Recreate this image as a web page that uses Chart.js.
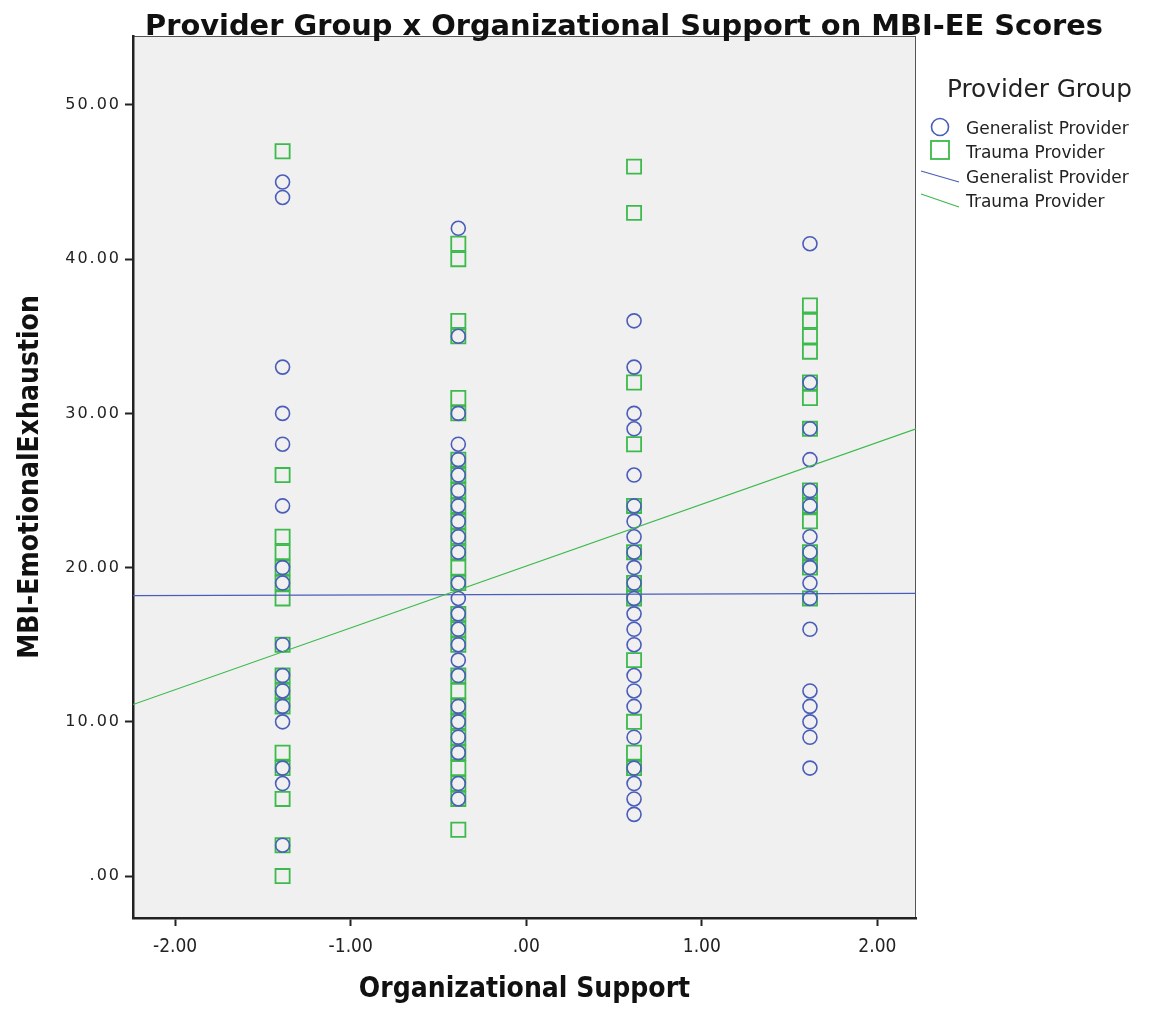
<!DOCTYPE html>
<html>
<head>
<meta charset="utf-8">
<script src="https://cdn.jsdelivr.net/npm/chart.js@4.4.1/dist/chart.umd.min.js"></script>
<style>
  html, body { margin: 0; padding: 0; background: #ffffff; }
  #wrap { width: 1169px; height: 1011px; }
</style>
</head>
<body>
<div id="wrap"><canvas id="chart" width="1169" height="1011"></canvas></div>
<script>
// Organizational Support levels (standardized) at which scores were observed
const supportLevels = [-1.388, -0.387, 0.614, 1.616];

// MBI-EE scores, Generalist Providers, one list per support level
const generalistScores = [
  [45, 44, 33, 30, 28, 24, 20, 19, 15, 13, 12, 11, 10, 7, 6, 2],
  [42, 35, 30, 28, 27, 26, 25, 24, 23, 22, 21, 19, 18, 17, 16, 15, 14, 13, 11, 10, 9, 8, 6, 5],
  [36, 33, 30, 29, 26, 24, 23, 22, 21, 20, 19, 18, 17, 16, 15, 13, 12, 11, 9, 7, 6, 5, 4],
  [41, 32, 29, 27, 25, 24, 22, 21, 20, 19, 18, 16, 12, 11, 10, 9, 7]
];

// MBI-EE scores, Trauma Providers, one list per support level
const traumaScores = [
  [47, 26, 22, 21, 20, 19, 18, 15, 13, 12, 11, 8, 7, 5, 2, 0],
  [41, 40, 36, 35, 31, 30, 27, 26, 25, 24, 23, 22, 21, 20, 19, 17, 16, 15, 13, 12, 11, 10, 9, 8, 7, 6, 5, 3],
  [46, 43, 32, 28, 24, 21, 19, 18, 14, 10, 8, 7],
  [37, 36, 35, 34, 32, 31, 29, 25, 24, 23, 21, 20, 18]
];

// Fit lines: end points across the x range
const fitX = [-2.24, 2.22];
const fitGeneralist = [18.18, 18.33];
const fitTrauma = [11.12, 29.0];

// Axis ranges and tick values
const xRange = [-2.24, 2.22];
const yRange = [-2.72, 54.47];
const xTicks = [-2, -1, 0, 1, 2];
const yTicks = [0, 10, 20, 30, 40, 50];

const groupNames = ['Generalist Provider', 'Trauma Provider'];
const legendTitle = 'Provider Group';
const chartTitle = 'Provider Group x Organizational Support on MBI-EE Scores';
const xTitle = 'Organizational Support';
const yTitle = 'MBI-EmotionalExhaustion';

const BLUE = '#4a5db8';
const GREEN = '#3cba4b';
const NARROW = '"Liberation Sans Narrow", "DejaVu Sans Condensed", "Roboto Condensed", "Liberation Sans", sans-serif';

function toPoints(levels, groups) {
  const pts = [];
  groups.forEach((list, i) => list.forEach(v => pts.push({ x: levels[i], y: v })));
  return pts;
}
function fmt(v) {
  if (v === 0) return '.00';
  const s = Math.abs(v).toFixed(2);
  return (v < 0 ? '-' : '') + (Math.abs(v) < 1 ? s.slice(1) : s);
}

// Plot-area fill and frame
const frame = {
  id: 'frame',
  beforeDraw(chart) {
    const { ctx, chartArea: a } = chart;
    ctx.save();
    ctx.fillStyle = '#f0f0f0';
    ctx.fillRect(a.left, a.top, a.right - a.left, a.bottom - a.top);
    ctx.strokeStyle = '#555555';
    ctx.lineWidth = 1;
    ctx.strokeRect(a.left + 0.5, a.top + 0.5, a.right - a.left - 1, a.bottom - a.top - 1);
    ctx.restore();
    // spaced lettering for the vertical axis labels
    const sc = chart.scales.y;
    if (sc && !sc._spaced) {
      const orig = sc.drawLabels;
      sc.drawLabels = function (area) {
        const c = this.ctx;
        c.save();
        c.letterSpacing = '2px';
        orig.call(this, area);
        c.restore();
      };
      sc._spaced = true;
    }
  }
};

// Chart heading and group key
const heading = {
  id: 'heading',
  afterDraw(chart) {
    const { ctx } = chart;
    ctx.save();
    ctx.fillStyle = '#111111';
    ctx.textBaseline = 'alphabetic';
    ctx.textAlign = 'center';
    ctx.font = 'bold 29px ' + NARROW;
    // stretch the heading to span 958px centred at x = 624
    const w = ctx.measureText(chartTitle).width;
    ctx.save();
    ctx.translate(624, 35);
    ctx.scale(958 / w, 1);
    ctx.fillText(chartTitle, 0, 0);
    ctx.restore();

    ctx.textAlign = 'left';
    ctx.font = '24px "DejaVu Sans", sans-serif';
    ctx.fillStyle = '#222222';
    ctx.save();
    const lw = ctx.measureText(legendTitle).width;
    ctx.translate(947, 97);
    ctx.scale(185 / lw, 1);
    ctx.fillText(legendTitle, 0, 0);
    ctx.restore();

    ctx.font = '17px "DejaVu Sans", sans-serif';
    // circle marker
    ctx.lineWidth = 1.6;
    ctx.strokeStyle = BLUE;
    ctx.beginPath();
    ctx.arc(940, 127, 8.5, 0, Math.PI * 2);
    ctx.stroke();
    ctx.fillText(groupNames[0], 966, 134);
    // square marker
    ctx.strokeStyle = GREEN;
    ctx.lineWidth = 1.8;
    ctx.strokeRect(931, 141, 18, 18);
    ctx.fillText(groupNames[1], 966, 158);
    // line markers
    ctx.lineWidth = 1.2;
    ctx.strokeStyle = BLUE;
    ctx.beginPath(); ctx.moveTo(921, 171); ctx.lineTo(959, 182); ctx.stroke();
    ctx.fillText(groupNames[0], 966, 183);
    ctx.strokeStyle = GREEN;
    ctx.beginPath(); ctx.moveTo(921, 194); ctx.lineTo(959, 207); ctx.stroke();
    ctx.fillText(groupNames[1], 966, 207);
    ctx.restore();
  }
};

new Chart(document.getElementById('chart'), {
  type: 'scatter',
  data: {
    datasets: [
      {
        label: groupNames[1],
        data: toPoints(supportLevels, traumaScores),
        pointStyle: 'rect',
        pointRadius: 10,
        borderColor: GREEN,
        backgroundColor: 'rgba(0,0,0,0)',
        borderWidth: 1.8,
        order: 3
      },
      {
        label: groupNames[0],
        data: toPoints(supportLevels, generalistScores),
        pointStyle: 'circle',
        pointRadius: 7,
        borderColor: BLUE,
        backgroundColor: 'rgba(0,0,0,0)',
        borderWidth: 1.6,
        order: 2
      },
      {
        type: 'line',
        label: groupNames[0] + ' fit',
        data: fitX.map((x, i) => ({ x, y: fitGeneralist[i] })),
        borderColor: BLUE,
        borderWidth: 1.2,
        pointRadius: 0,
        order: 1
      },
      {
        type: 'line',
        label: groupNames[1] + ' fit',
        data: fitX.map((x, i) => ({ x, y: fitTrauma[i] })),
        borderColor: GREEN,
        borderWidth: 1.2,
        pointRadius: 0,
        order: 0
      }
    ]
  },
  options: {
    responsive: false,
    animation: false,
    devicePixelRatio: 1,
    layout: { padding: { top: 36, right: 253, left: 0, bottom: 0 } },
    plugins: { legend: { display: false }, tooltip: { enabled: false } },
    scales: {
      x: {
        type: 'linear',
        min: xRange[0],
        max: xRange[1],
        afterBuildTicks: s => { s.ticks = xTicks.map(v => ({ value: v })); },
        afterFit: s => { s.height = 93; },
        grid: { drawOnChartArea: false, drawTicks: true, tickLength: 8, tickWidth: 2, tickColor: '#222222' },
        border: { color: '#222222', width: 2.5 },
        ticks: { color: '#222222', padding: 10, font: { family: NARROW, size: 19 }, callback: v => fmt(v), maxRotation: 0 },
        title: { display: true, text: xTitle, color: '#111111', font: { family: NARROW, size: 28, weight: 'bold' }, padding: { top: 0, bottom: 4 } }
      },
      y: {
        type: 'linear',
        min: yRange[0],
        max: yRange[1],
        afterBuildTicks: s => { s.ticks = yTicks.map(v => ({ value: v })); },
        afterFit: s => { s.width = 133; },
        grid: { drawOnChartArea: false, drawTicks: true, tickLength: 8, tickWidth: 2, tickColor: '#222222' },
        border: { color: '#222222', width: 2.5 },
        ticks: { color: '#222222', padding: 4, font: { family: '"DejaVu Sans", sans-serif', size: 16 }, callback: v => fmt(v) },
        title: { display: true, text: yTitle, color: '#111111', font: { family: NARROW, size: 28, weight: 'bold' }, padding: { top: 14, bottom: 0 } }
      }
    }
  },
  plugins: [frame, heading]
});
</script>
</body>
</html>
